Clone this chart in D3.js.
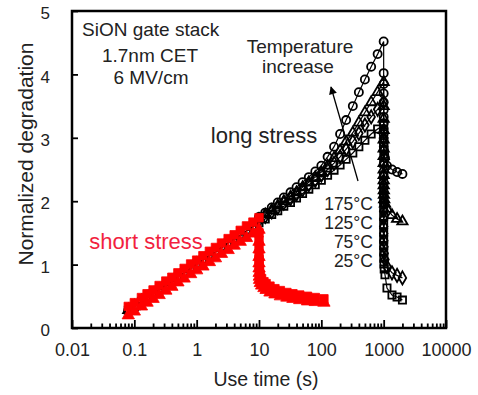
<!DOCTYPE html>
<html>
<head>
<meta charset="utf-8">
<script src="https://cdn.jsdelivr.net/npm/d3@7"></script>
<style>
  html, body { margin: 0; padding: 0; background: #fff; }
  svg { display: block; font-family: Arial, "Liberation Sans", sans-serif; }
</style>
</head>
<body>
<svg id="chart" width="478" height="395"></svg>
<script>
// short stress (red), stress phase up to 10 s
const shortStressTimes = [0.08, 0.1, 0.13, 0.16, 0.2, 0.25, 0.32, 0.4, 0.5, 0.63, 0.8, 1, 1.26, 1.6, 2, 2.5, 3.2, 4, 5, 6.3, 8, 10];
const shortSquares = [0.34, 0.40, 0.48, 0.54, 0.60, 0.67, 0.74, 0.80, 0.87, 0.94, 1.01, 1.07, 1.14, 1.21, 1.27, 1.34, 1.41, 1.47, 1.54, 1.61, 1.67, 1.74];
const shortTriangles = [0.20, 0.26, 0.34, 0.40, 0.46, 0.52, 0.59, 0.65, 0.72, 0.78, 0.85, 0.91, 0.97, 1.04, 1.10, 1.17, 1.23, 1.30, 1.36, 1.42, 1.49, 1.55];
// short stress relaxation after 10 s
const shortRelaxTimes = [10.001, 10.002, 10.005, 10.01, 10.02, 10.05, 10.1, 10.2, 10.5, 11, 12, 13, 15, 18, 22, 28, 35, 45, 60, 80, 110];
const shortRelaxSquares = [1.50, 1.38, 1.26, 1.16, 1.08, 1.00, 0.94, 0.88, 0.83, 0.78, 0.73, 0.70, 0.66, 0.62, 0.59, 0.56, 0.54, 0.52, 0.50, 0.48, 0.46];
const shortRelaxTriangles = [1.36, 1.24, 1.12, 1.02, 0.94, 0.87, 0.81, 0.76, 0.71, 0.67, 0.63, 0.60, 0.56, 0.53, 0.50, 0.48, 0.46, 0.44, 0.42, 0.41, 0.40];

// long stress (black), common early part
const longEarlyTimes = [0.08, 0.1, 0.13, 0.16, 0.2, 0.25, 0.32, 0.4, 0.5, 0.63, 0.8, 1, 1.26, 1.6, 2, 2.5, 3.2, 4, 5, 6.3, 8];
const longEarly = [0.28, 0.34, 0.42, 0.48, 0.54, 0.60, 0.67, 0.73, 0.80, 0.87, 0.94, 1.01, 1.07, 1.14, 1.20, 1.27, 1.34, 1.40, 1.46, 1.53, 1.60];
const longLateTimes = [10, 12.6, 16, 20, 25, 32, 40, 50, 63, 80, 100, 126, 160, 200, 250, 320, 400, 500, 630, 800, 1000];
const long25 = [1.66, 1.72, 1.79, 1.85, 1.92, 1.98, 2.05, 2.12, 2.19, 2.26, 2.33, 2.41, 2.49, 2.57, 2.66, 2.76, 2.86, 2.96, 3.06, 3.14, 3.20];
const long75 = [1.69, 1.76, 1.83, 1.90, 1.97, 2.04, 2.11, 2.18, 2.26, 2.33, 2.41, 2.50, 2.60, 2.70, 2.82, 2.94, 3.07, 3.20, 3.33, 3.45, 3.56];
const long125 = [1.72, 1.79, 1.86, 1.93, 2.00, 2.07, 2.14, 2.22, 2.30, 2.38, 2.46, 2.56, 2.68, 2.80, 2.94, 3.08, 3.24, 3.40, 3.56, 3.72, 3.88];
const long175 = [1.75, 1.82, 1.90, 1.98, 2.06, 2.14, 2.22, 2.30, 2.38, 2.47, 2.56, 2.70, 2.86, 3.06, 3.28, 3.50, 3.72, 3.92, 4.12, 4.32, 4.52];
// long stress relaxation after 1000 s
const longRelaxTimes = [1000.001, 1000.002, 1000.005, 1000.01, 1000.02, 1000.05, 1000.1, 1000.2, 1000.5, 1001, 1002, 1005, 1010, 1020, 1050, 1130, 1360, 1640, 2000];
const relax25 = [2.60, 2.40, 2.20, 2.05, 1.90, 1.76, 1.63, 1.51, 1.40, 1.30, 1.20, 1.10, 1.01, 0.93, 0.84, 0.63, 0.52, 0.49, 0.44];
const relax75 = [3.00, 2.80, 2.60, 2.42, 2.26, 2.11, 1.97, 1.84, 1.72, 1.60, 1.49, 1.38, 1.28, 1.18, 1.08, 0.97, 0.87, 0.83, 0.79];
const relax125 = [3.50, 3.30, 3.12, 2.97, 2.83, 2.71, 2.60, 2.50, 2.41, 2.33, 2.25, 2.17, 2.10, 2.03, 1.96, 1.88, 1.78, 1.72, 1.68];
const relax175 = [4.02, 3.85, 3.70, 3.56, 3.44, 3.33, 3.23, 3.14, 3.06, 2.99, 2.92, 2.86, 2.80, 2.74, 2.68, 2.56, 2.50, 2.46, 2.43];

const xTicks = [0.01, 0.1, 1, 10, 100, 1000, 10000];
const yTicks = [0, 1, 2, 3, 4, 5];
const tempLabels = ["175°C", "125°C", "75°C", "25°C"];

const svg = d3.select("#chart");
const x = d3.scaleLog().domain([0.01, 10000]).range([72, 446]);
const y = d3.scaleLinear().domain([0, 5]).range([328, 11]);

const zip = (ts, vs) => ts.map((t, i) => [t, vs[i]]);

const blackSeries = [
  { shape: d3.symbolSquare, size: 52, pts: zip(longEarlyTimes, longEarly).concat(zip(longLateTimes, long25), zip(longRelaxTimes, relax25)) },
  { shape: d3.symbolDiamond, size: 50, pts: zip(longEarlyTimes, longEarly).concat(zip(longLateTimes, long75), zip(longRelaxTimes, relax75)) },
  { shape: d3.symbolTriangle, size: 46, pts: zip(longEarlyTimes, longEarly).concat(zip(longLateTimes, long125), zip(longRelaxTimes, relax125)) },
  { shape: d3.symbolCircle, size: 52, pts: zip(longEarlyTimes, longEarly).concat(zip(longLateTimes, long175), zip(longRelaxTimes, relax175)) }
];
const redSeries = [
  { shape: d3.symbolTriangle, size: 66, pts: zip(shortStressTimes, shortTriangles).concat(zip(shortRelaxTimes, shortRelaxTriangles)) },
  { shape: d3.symbolSquare, size: 72, pts: zip(shortStressTimes, shortSquares).concat(zip(shortRelaxTimes, shortRelaxSquares)) }
];

const line = d3.line().x((d) => x(d[0])).y((d) => y(d[1]));

// black long stress
blackSeries.forEach((s) => {
  svg.append("path").attr("d", line(s.pts)).attr("fill", "none").attr("stroke", "#000").attr("stroke-width", 1.2);
  svg.append("g").selectAll("path").data(s.pts).enter().append("path")
    .attr("transform", (d) => `translate(${x(d[0])},${y(d[1])})`)
    .attr("d", d3.symbol().type(s.shape).size(s.size))
    .attr("fill", "none").attr("stroke", "#000").attr("stroke-width", 1.8);
});

// red short stress
redSeries.forEach((s) => {
  svg.append("path").attr("d", line(s.pts)).attr("fill", "none").attr("stroke", "#ff0000").attr("stroke-width", 1);
  svg.append("g").selectAll("path").data(s.pts).enter().append("path")
    .attr("transform", (d) => `translate(${x(d[0])},${y(d[1])})`)
    .attr("d", d3.symbol().type(s.shape).size(s.size))
    .attr("fill", "#ff0000").attr("stroke", "#ff0000").attr("stroke-width", 0.8);
});

// axes
const minor = [];
for (let e = -2; e < 4; e++) for (let k = 2; k < 10; k++) minor.push(k * Math.pow(10, e));

const xAxis = svg.append("g").attr("transform", "translate(0,328)")
  .call(d3.axisBottom(x).tickValues(xTicks).tickSize(-8).tickPadding(15).tickFormat((d) => String(d)));
svg.append("g").attr("transform", "translate(0,328)")
  .call(d3.axisBottom(x).tickValues(minor).tickSize(-4.5).tickFormat(""));
const yAxis = svg.append("g").attr("transform", "translate(72,0)")
  .call(d3.axisLeft(y).tickValues(yTicks).tickSize(-6).tickPadding(22).tickFormat(d3.format("d")));

svg.selectAll(".tick line").attr("stroke", "#000").attr("stroke-width", 1.8);
svg.selectAll(".domain").remove();
xAxis.selectAll("text").attr("font-size", 18).attr("fill", "#222").attr("font-family", null);
yAxis.selectAll("text").attr("font-size", 17).attr("fill", "#222").attr("font-family", null).attr("dy", "0.45em");

svg.append("rect").attr("x", x(0.01)).attr("y", y(5)).attr("width", x(10000) - x(0.01)).attr("height", y(0) - y(5))
  .attr("fill", "none").attr("stroke", "#000").attr("stroke-width", 2.5);

// axis titles
svg.append("text").attr("x", 266).attr("y", 386).attr("text-anchor", "middle")
  .attr("font-size", 19.5).attr("fill", "#222").text("Use time (s)");
svg.append("text").attr("transform", "translate(33,154) rotate(-90)").attr("text-anchor", "middle")
  .attr("font-size", 21).attr("fill", "#222").text("Normalized degradation");

// annotations
const note = (tx, ty, txt, size, anchor, color) =>
  svg.append("text").attr("x", tx).attr("y", ty).attr("text-anchor", anchor || "middle")
    .attr("font-size", size).attr("fill", color || "#222").text(txt);

note(82, 36, "SiON gate stack", 19, "start");
note(150, 62, "1.7nm CET", 19);
note(151, 84, "6 MV/cm", 19);
note(300, 53, "Temperature", 19);
note(298, 73, "increase", 19);
note(264, 143, "long stress", 22);
note(146, 249, "short stress", 22, "middle", "#f21f40");
tempLabels.forEach((t, i) => note(373, [210, 229, 248, 267][i], t, 17.5, "end"));

// arrow
svg.append("defs").append("marker").attr("id", "head").attr("viewBox", "0 0 10 10")
  .attr("refX", 9).attr("refY", 5).attr("markerWidth", 10).attr("markerHeight", 8)
  .attr("markerUnits", "userSpaceOnUse").attr("orient", "auto")
  .append("path").attr("d", "M0,0L10,5L0,10Z").attr("fill", "#000");
svg.append("line").attr("x1", 358).attr("y1", 181).attr("x2", 331).attr("y2", 87)
  .attr("stroke", "#000").attr("stroke-width", 1.3).attr("marker-end", "url(#head)");
</script>
</body>
</html>
